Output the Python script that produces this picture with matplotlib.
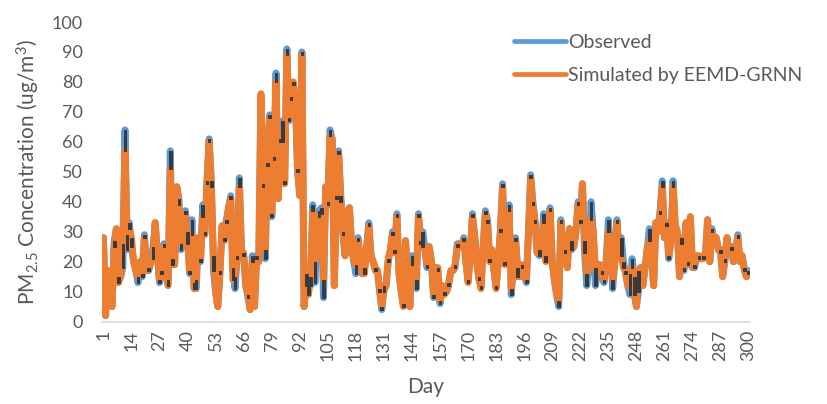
import matplotlib
matplotlib.use("Agg")
import matplotlib.pyplot as plt
import numpy as np
from matplotlib.lines import Line2D

plt.rcParams['font.family'] = ['Lato', 'DejaVu Sans']
plt.rcParams['mathtext.fontset'] = 'custom'
plt.rcParams['mathtext.rm'] = 'Lato'
plt.rcParams['mathtext.it'] = 'Lato:italic'

observed = [
    28, 2, 17, 6, 5, 27, 31, 15, 15, 18,
    64, 24, 33, 25, 20, 17, 13, 20, 15, 29,
    17, 17, 20, 25, 33, 22, 13, 16, 26, 15,
    14, 57, 19, 19, 45, 41, 24, 30, 37, 30,
    16, 34, 13, 11, 28, 20, 39, 30, 47, 61,
    47, 17, 10, 5, 16, 32, 28, 34, 38, 42,
    18, 11, 22, 48, 23, 22, 12, 8, 4, 22,
    5, 22, 20, 76, 45, 21, 53, 69, 35, 55,
    83, 41, 60, 67, 47, 91, 67, 75, 79, 73,
    50, 42, 90, 5, 16, 14, 12, 39, 13, 30,
    37, 38, 8, 45, 39, 64, 61, 12, 42, 57,
    42, 30, 22, 36, 38, 26, 20, 16, 28, 22,
    16, 18, 25, 33, 22, 20, 18, 17, 10, 4,
    12, 12, 20, 24, 30, 24, 36, 16, 10, 6,
    27, 16, 5, 22, 16, 11, 36, 27, 30, 24,
    18, 25, 20, 8, 18, 17, 6, 12, 10, 10,
    12, 17, 17, 18, 26, 26, 25, 28, 20, 14,
    22, 36, 29, 20, 14, 12, 25, 37, 34, 21,
    24, 17, 12, 20, 30, 46, 20, 28, 39, 9,
    18, 28, 18, 15, 18, 16, 13, 30, 49, 40,
    34, 23, 22, 24, 36, 22, 23, 38, 20, 14,
    9, 5, 34, 25, 24, 18, 31, 24, 25, 30,
    40, 34, 46, 23, 12, 19, 40, 30, 12, 16,
    19, 16, 13, 20, 34, 24, 11, 20, 34, 22,
    28, 20, 16, 12, 9, 21, 15, 5, 10, 18,
    12, 18, 24, 31, 22, 12, 33, 30, 37, 47,
    28, 33, 21, 27, 47, 32, 30, 15, 26, 17,
    33, 19, 35, 18, 18, 22, 21, 21, 22, 22,
    34, 20, 31, 27, 28, 24, 24, 15, 20, 28,
    23, 25, 20, 24, 29, 20, 22, 18, 15, 17,
]

simulated = [
    28, 2, 17, 6, 5, 25, 31, 13, 15, 26,
    57, 29, 31, 28, 20, 17, 15, 20, 16, 28,
    17, 18, 20, 21, 33, 22, 14, 17, 25, 15,
    12, 51, 21, 19, 45, 39, 26, 30, 36, 26,
    17, 29, 11, 14, 28, 21, 35, 29, 46, 60,
    45, 22, 10, 5, 17, 32, 27, 33, 38, 41,
    14, 15, 21, 45, 23, 23, 12, 9, 4, 20,
    5, 21, 20, 76, 46, 24, 52, 68, 36, 54,
    80, 41, 61, 60, 46, 89, 68, 74, 80, 73,
    51, 42, 89, 5, 12, 9, 15, 37, 20, 30,
    35, 36, 14, 45, 40, 62, 61, 12, 41, 56,
    40, 29, 22, 36, 38, 26, 20, 19, 27, 22,
    16, 16, 25, 32, 22, 20, 17, 17, 11, 5,
    10, 12, 21, 24, 29, 23, 35, 16, 10, 5,
    27, 16, 5, 19, 16, 14, 35, 26, 25, 24,
    19, 25, 20, 9, 18, 18, 7, 12, 9, 10,
    13, 17, 17, 19, 25, 26, 25, 27, 20, 13,
    22, 35, 29, 20, 15, 11, 25, 36, 33, 20,
    24, 17, 11, 20, 31, 45, 19, 28, 37, 11,
    18, 27, 15, 15, 19, 16, 14, 30, 48, 39,
    33, 23, 24, 24, 33, 20, 23, 37, 20, 14,
    9, 7, 33, 25, 23, 18, 31, 27, 25, 30,
    39, 33, 46, 27, 16, 19, 34, 30, 18, 16,
    19, 17, 14, 20, 30, 24, 14, 20, 33, 22,
    22, 18, 17, 12, 16, 18, 9, 5, 17, 18,
    12, 18, 24, 27, 22, 12, 33, 30, 36, 45,
    28, 32, 22, 27, 45, 32, 30, 15, 28, 18,
    33, 20, 35, 18, 19, 22, 22, 21, 21, 22,
    34, 20, 30, 27, 28, 24, 23, 15, 21, 28,
    23, 24, 20, 24, 28, 20, 22, 17, 15, 16,
]

days = list(range(1, 301))
xtick_days = list(range(1, 301, 13))
ytick_vals = list(range(0, 101, 10))

blue = '#5B9BD5'
orange = '#ED7D31'
dark = '#3A3A3A'
text_c = '#595959'

fig = plt.figure(figsize=(8.28, 4.04), dpi=100)
ax = fig.add_axes([0.1236, 0.204, 0.7818, 0.7415])

obs = np.array(observed, dtype=float)
sim = np.array(simulated, dtype=float)
x = np.array(days)

ax.plot(x, obs, color=blue, lw=5.0, solid_joinstyle='round', solid_capstyle='round', zorder=2)
ax.plot(x, sim, color=orange, lw=5.0, solid_joinstyle='round', solid_capstyle='round', zorder=3)

diff = sim - obs
mask = diff != 0
ax.bar(x[mask], diff[mask], bottom=obs[mask], width=1.2, color=dark,
       edgecolor=dark, linewidth=0.7, zorder=4)

ax.set_xlim(0.5, 300.5)
ax.set_ylim(0, 100)
ax.set_xticks(xtick_days)
ax.set_xticklabels([str(d) for d in xtick_days], rotation=90, fontsize=13, color=text_c)
ax.set_yticks(ytick_vals)
ax.set_yticklabels([str(v) for v in ytick_vals], fontsize=13, color=text_c)
ax.tick_params(axis='x', length=0, pad=6)
ax.tick_params(axis='y', length=0, pad=14)

for s in ['top', 'right', 'left']:
    ax.spines[s].set_visible(False)
ax.spines['bottom'].set_color('#D9D9D9')
ax.spines['bottom'].set_linewidth(1.2)

ax.set_xlabel('Day', fontsize=15, color=text_c, labelpad=11)
ax.set_ylabel('PM$_{2.5}$ Concentration (ug/m$^{3}$)', fontsize=15, color=text_c, labelpad=7)

handles = [Line2D([0], [0], color=blue, lw=3.4, solid_capstyle='round'),
           Line2D([0], [0], color=orange, lw=3.4, solid_capstyle='round')]
leg = fig.legend(handles, ['Observed', 'Simulated by EEMD-GRNN'], loc='upper left',
                 bbox_to_anchor=(0.609, 0.94), frameon=False, fontsize=14,
                 handlelength=2.65, handletextpad=0.12, labelspacing=0.8, borderpad=0)
for t in leg.get_texts():
    t.set_color(text_c)

fig.savefig('out.png', dpi=100)
